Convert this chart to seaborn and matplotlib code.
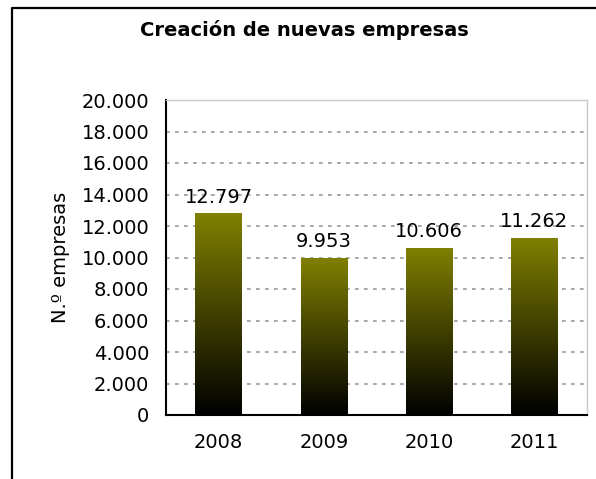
import numpy as np
import pandas as pd
import matplotlib
matplotlib.use("Agg")
import matplotlib.pyplot as plt
from matplotlib.colors import LinearSegmentedColormap
from matplotlib.ticker import FuncFormatter
from matplotlib.lines import Line2D
import seaborn as sns

# Data
years = ["2008", "2009", "2010", "2011"]
companies = [12797, 9953, 10606, 11262]
value_labels = ["12.797", "9.953", "10.606", "11.262"]
y_ticks = [0, 2000, 4000, 6000, 8000, 10000, 12000, 14000, 16000, 18000, 20000]

df = pd.DataFrame({"year": years, "companies": companies})

sns.set_theme(style="white")
plt.rcParams["font.family"] = ["DejaVu Sans"]
plt.rcParams["text.color"] = "black"
plt.rcParams["axes.labelcolor"] = "black"
plt.rcParams["xtick.color"] = "black"
plt.rcParams["ytick.color"] = "black"

fig = plt.figure(figsize=(5.96, 4.79), dpi=100)
ax = fig.add_axes([166 / 596, 1 - 415 / 479, (587 - 166) / 596, (415 - 100) / 479])

sns.barplot(data=df, x="year", y="companies", ax=ax, width=0.44,
            color="#808000", saturation=1, edgecolor="none")

# Vertical gradient (olive at top, black at bottom) inside each bar
cmap = LinearSegmentedColormap.from_list("olive_black", ["#000000", "#808000"])
grad = np.linspace(0, 1, 256).reshape(-1, 1)
for patch in list(ax.patches):
    x0, y0 = patch.get_x(), patch.get_y()
    w, h = patch.get_width(), patch.get_height()
    im = ax.imshow(grad, cmap=cmap, origin="lower", aspect="auto",
                   extent=[x0, x0 + w, y0, y0 + h], zorder=2,
                   interpolation="bilinear")
    im.set_clip_path(patch)
    patch.set_facecolor("none")
ax.set_xlim(-0.5, len(years) - 0.5)
ax.set_ylim(0, 20000)

# Value labels above bars
for i, (v, lab) in enumerate(zip(companies, value_labels)):
    ax.annotate(lab, (i, v), xytext=(0, 5), textcoords="offset points",
                ha="center", va="bottom", fontsize=14, color="black", zorder=4)

# Grid
ax.set_yticks(y_ticks)
ax.yaxis.set_major_formatter(FuncFormatter(lambda v, p: f"{int(v):,}".replace(",", ".")))
for t in y_ticks[1:]:
    ax.axhline(t, color="#999999", lw=1.2, ls=(0, (2.2, 3.2)), zorder=1)

# Spines
for s in ["top", "right"]:
    ax.spines[s].set_color("#c8c8c8")
    ax.spines[s].set_linewidth(1.0)
for s in ["left", "bottom"]:
    ax.spines[s].set_color("black")
    ax.spines[s].set_linewidth(1.5)

# X ticks at category boundaries, labels at centers
ax.set_xticks(np.arange(-0.5, len(years), 1.0))
ax.set_xticklabels([])
ax.set_xticks(np.arange(len(years)), minor=True)
ax.set_xticklabels(years, minor=True, fontsize=14)
ax.tick_params(axis="x", which="major", direction="out", length=6, width=1.5, color="black")
ax.tick_params(axis="x", which="minor", length=0, pad=13)
ax.tick_params(axis="y", direction="out", length=6, width=1.5, color="black",
               labelsize=14, pad=6)
ax.set_xlabel("")
ax.set_ylabel("N.º empresas", fontsize=14, labelpad=8)

fig.text(0.5 + 6 / 596, 1 - 30 / 479, "Creación de nuevas empresas", ha="center",
         va="center", fontsize=14, fontweight="bold", color="black")

# Outer frame (left and top edges)
fig.add_artist(Line2D([12 / 596, 12 / 596, 1.0], [0.0, 1 - 8 / 479, 1 - 8 / 479],
                      transform=fig.transFigure, color="black", lw=1.6))

fig.savefig("out.png", dpi=100)
